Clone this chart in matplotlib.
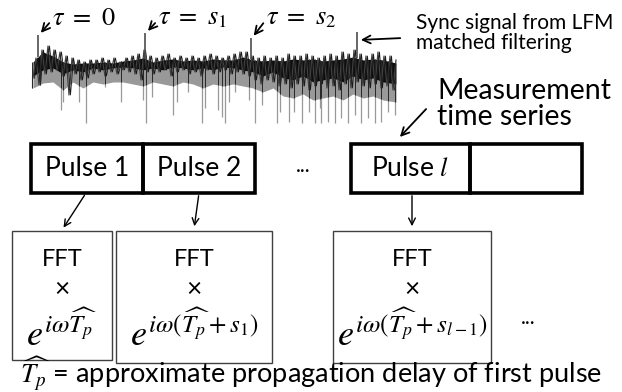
import numpy as np
import matplotlib.pyplot as plt

plt.rcParams['mathtext.fontset'] = 'stix'
plt.rcParams['font.family'] = ['Lato', 'DejaVu Sans']

trace_x0, trace_dx = 33, 3
trace_y = [78, 58, 85, 50, 74, 46, 72, 50, 70, 52,
           76, 56, 95, 58, 74, 60, 80, 62, 78, 60,
           74, 60, 72, 58, 76, 60, 72, 58, 74, 62,
           70, 58, 72, 56, 74, 54, 80, 50, 72, 56,
           74, 58, 72, 56, 70, 54, 76, 58, 72, 56,
           70, 58, 74, 56, 72, 58, 76, 56, 70, 54,
           74, 56, 72, 58, 70, 56, 74, 54, 72, 52,
           74, 52, 76, 56, 80, 58, 84, 56, 80, 58,
           82, 56, 86, 58, 84, 54, 88, 56, 84, 56,
           86, 54, 90, 56, 86, 58, 84, 56, 88, 54,
           86, 56, 90, 52, 84, 54, 88, 50, 82, 54,
           86, 56, 88, 54, 84, 52, 88, 56, 86, 56,
           90, 60]
env_x = [33, 43, 53, 63, 73, 83, 93, 103, 113, 123, 133, 143, 153, 163, 173, 183, 193, 203, 213,
         223, 233, 243, 253, 263, 273, 283, 293, 303, 313, 323, 333, 343, 353, 363, 373, 383, 396]
env_top = [62, 52, 56, 62, 64, 63, 63, 62, 63, 61, 60, 58, 62, 60, 59, 61, 60, 61, 59,
           60, 60, 57, 60, 61, 60, 61, 59, 60, 59, 61, 60, 59, 57, 60, 59, 60, 63]
env_bot = [76, 70, 68, 74, 70, 72, 68, 70, 68, 67, 68, 70, 68, 70, 67, 68, 70, 68, 70,
           67, 68, 70, 72, 76, 72, 78, 80, 76, 82, 80, 78, 82, 76, 80, 78, 82, 84]
gray_bot = [88, 83, 82, 90, 82, 88, 82, 84, 82, 82, 84, 86, 82, 84, 86, 82, 84, 88, 84,
            86, 84, 86, 88, 92, 88, 96, 98, 94, 100, 98, 96, 100, 94, 98, 96, 100, 102]
spike_x = [32, 40, 61, 63, 79, 86, 105, 121, 143, 146, 152, 173, 177, 188, 202, 205, 218, 222,
           225, 229, 235, 249, 255, 262, 277, 280, 289, 294, 302, 309, 315, 320,
           321, 328, 335, 341, 348, 355, 361, 368, 375, 381, 388, 395]
spike_y = [88, 83, 110, 102, 102, 123, 87, 102, 100, 123, 97, 115, 102, 92, 123, 108, 110, 117,
           123, 102, 92, 100, 123, 105, 123, 112, 122, 112, 123, 112, 123, 108,
           123, 122, 123, 118, 123, 115, 123, 118, 123, 122, 112, 115]
sync_x = [38, 145, 251, 357]
sync_y = [35, 33, 38, 32]

pulse_labels = ['Pulse 1', 'Pulse 2', 'Pulse $l$', '']
fft_terms = [r'$e^{i\omega\widehat{T_p}}$', r'$e^{i\omega(\widehat{T_p}+s_1)}$',
             r'$e^{i\omega(\widehat{T_p}+s_{l-1})}$']
tau_labels = [r'$\tau\ =\ 0$', r'$\tau\ =\ s_1$', r'$\tau\ =\ s_2$']

fig = plt.figure(figsize=(6.22, 3.92), dpi=100)
ax = fig.add_axes([0, 0, 1, 1])
ax.set_xlim(0, 622)
ax.set_ylim(392, 0)
ax.axis('off')

# trace
trace_x = trace_x0 + trace_dx * np.arange(len(trace_y))
ax.vlines(spike_x, np.interp(spike_x, env_x, env_bot), spike_y, color='0.6', lw=0.9)
ax.fill_between(env_x, env_bot, gray_bot, color='0.6', lw=0)
ax.plot(trace_x, trace_y, color='0.25', lw=0.9)
ax.plot(trace_x[1:] - 1.5, trace_y[:-1], color='0.1', lw=0.6)
ax.fill_between(env_x, env_top, env_bot, color='0.05', lw=0)
ax.vlines(spike_x, np.interp(spike_x, env_x, env_top), np.interp(spike_x, env_x, gray_bot),
          color='0.15', lw=0.7)
ax.vlines(sync_x, sync_y, np.interp(sync_x, env_x, env_top), color='0.3', lw=1.2)

arrow = dict(arrowstyle='->', color='black', lw=1.3, mutation_scale=14)
for x, y, lab, tx in zip(sync_x[:3], sync_y[:3], tau_labels, [52, 158, 266]):
    ax.annotate('', xy=(x + 1, y), xytext=(tx - 1, 21), arrowprops=arrow)
    ax.text(tx, 17, lab, fontsize=19, va='center', ha='left')
ax.annotate('', xy=(sync_x[3] + 1, sync_y[3] + 8), xytext=(403, 38), arrowprops=arrow)
ax.text(416, 33, 'Sync signal from LFM\nmatched filtering', fontsize=15, va='center',
        ha='left', linespacing=0.98)
ax.text(437, 104, 'Measurement\ntime series', fontsize=20.5, va='center', ha='left',
        linespacing=1.0)
ax.annotate('', xy=(398, 139), xytext=(428, 107), arrowprops=arrow)

# pulse boxes
edges = [(31, 143), (143, 255), (351, 470), (470, 582)]
for (x0, x1), lab in zip(edges, pulse_labels):
    ax.add_patch(plt.Rectangle((x0, 144), x1 - x0, 49, fill=False, lw=2.6, ec='black'))
    ax.text((x0 + x1) / 2, 168, lab, fontsize=19, ha='center', va='center')
ax.text(303, 166, '...', fontsize=15, ha='center', va='center')

# FFT boxes
fft_edges = [(12, 112, 360), (116, 272, 363), (333, 491, 363)]
starts = [(86, 193), (199, 193), (412, 193)]
ends = [(62, 230), (194, 229), (412, 229)]
thin = dict(arrowstyle='->', color='black', lw=1.0, mutation_scale=12)
for (x0, x1, yb), term, s, e in zip(fft_edges, fft_terms, starts, ends):
    ax.add_patch(plt.Rectangle((x0, 231), x1 - x0, yb - 231, fill=False, lw=1.0, ec='0.25'))
    c = (x0 + x1) / 2
    ax.text(c, 259, 'FFT', fontsize=17, ha='center', va='center')
    ax.text(c, 289, '×', fontsize=19, ha='center', va='center')
    ax.text(c, 330, term, fontsize=26, ha='center', va='center')
    ax.annotate('', xy=e, xytext=s, arrowprops=thin)
ax.text(528, 318, '...', fontsize=15, ha='center', va='center')

ax.text(20, 383, r'$\widehat{T_p}$ = approximate propagation delay of first pulse',
        fontsize=19.5, ha='left', va='baseline')

fig.savefig('out.png', dpi=100)
